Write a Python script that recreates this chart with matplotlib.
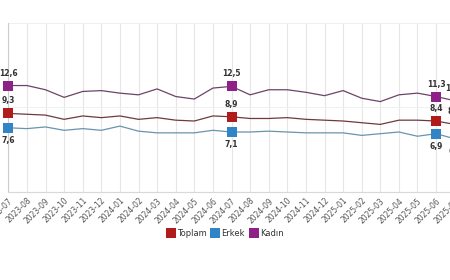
import matplotlib.pyplot as plt
from matplotlib.lines import Line2D

# aylar 2023-07 .. 2025-07
aylar = ["2023-07", "2023-08", "2023-09", "2023-10", "2023-11", "2023-12",
         "2024-01", "2024-02", "2024-03", "2024-04", "2024-05", "2024-06",
         "2024-07", "2024-08", "2024-09", "2024-10", "2024-11", "2024-12",
         "2025-01", "2025-02", "2025-03", "2025-04", "2025-05", "2025-06",
         "2025-07"]

toplam = [9.3, 9.2, 9.1, 8.6, 9.0, 8.8, 9.0, 8.6, 8.8, 8.5, 8.4, 9.0,
          8.9, 8.7, 8.7, 8.8, 8.6, 8.5, 8.4, 8.2, 8.0, 8.5, 8.5, 8.4, 8.0]
erkek = [7.6, 7.5, 7.7, 7.3, 7.5, 7.3, 7.8, 7.2, 7.0, 7.0, 7.0, 7.3,
         7.1, 7.1, 7.2, 7.1, 7.0, 7.0, 7.0, 6.7, 6.9, 7.1, 6.6, 6.9, 6.3]
kadin = [12.6, 12.6, 12.1, 11.2, 11.9, 12.0, 11.7, 11.5, 12.2, 11.3, 11.0, 12.3,
         12.5, 11.5, 12.1, 12.1, 11.8, 11.4, 12.0, 11.1, 10.7, 11.5, 11.7, 11.3, 10.8]

# isaretli noktalar (index)
isaretli = [0, 12, 23, 24]

seriler = [
    ("Toplam", toplam, "#b01c1c", "#6e3a3f", 1),
    ("Erkek", erkek, "#3184c6", "#6a93ad", -1),
    ("Kadın", kadin, "#8d2188", "#6b4468", 1),
]

fig = plt.figure(figsize=(4.5, 2.8), dpi=100)
# grafik biraz kesik, sol ve sag kenar disari tasiyor
ax = fig.add_axes([8.3 / 450, 88 / 280, 446.4 / 450, 169 / 280])

x = list(range(len(aylar)))
for nimi, y, renk, joon, suund in seriler:
    ax.plot(x, y, color=joon, linewidth=0.9, zorder=3)
    xs = [x[i] for i in isaretli]
    ys = [y[i] for i in isaretli]
    ax.plot(xs, ys, linestyle="none", marker="s", markersize=6.5,
            color=renk, markeredgewidth=0, zorder=4, clip_on=False)
    for i in isaretli:
        ax.annotate(f"{y[i]:.1f}".replace(".", ","), (x[i], y[i]),
                    xytext=(0, 9 * suund), textcoords="offset points",
                    ha="center", va="center", fontsize=5.5,
                    fontweight="bold", color="#333333", zorder=5)

ax.set_xlim(0, 24)
ax.set_ylim(0, 20)
ax.set_xticks(x)
ax.set_xticklabels(aylar, rotation=45, ha="right", rotation_mode="anchor",
                   fontsize=5.5, color="#555555")
ax.set_yticks([0, 10, 20])
ax.set_yticklabels([])
ax.tick_params(axis="both", length=0, pad=3)
ax.grid(axis="x", color="#e6e6e6", linewidth=0.8)
ax.grid(axis="y", color="#f0f0f0", linewidth=0.8)
for s in ["top", "right"]:
    ax.spines[s].set_visible(False)
ax.spines["left"].set_color("#cccccc")
ax.spines["left"].set_linewidth(0.8)
ax.spines["bottom"].set_color("#d8d8d8")
ax.spines["bottom"].set_linewidth(0.8)

kasti = [Line2D([], [], linestyle="none", marker="s", markersize=6.5,
                color=renk, markeredgewidth=0) for _, _, renk, _, _ in seriler]
fig.legend(kasti, [s[0] for s in seriler], loc="center",
           bbox_to_anchor=(0.5, 1 - 233 / 280), ncol=3, frameon=False,
           fontsize=6, handletextpad=0.2, columnspacing=0.6,
           handlelength=1.0, labelcolor="#333333")

fig.savefig("out.png", dpi=100)
